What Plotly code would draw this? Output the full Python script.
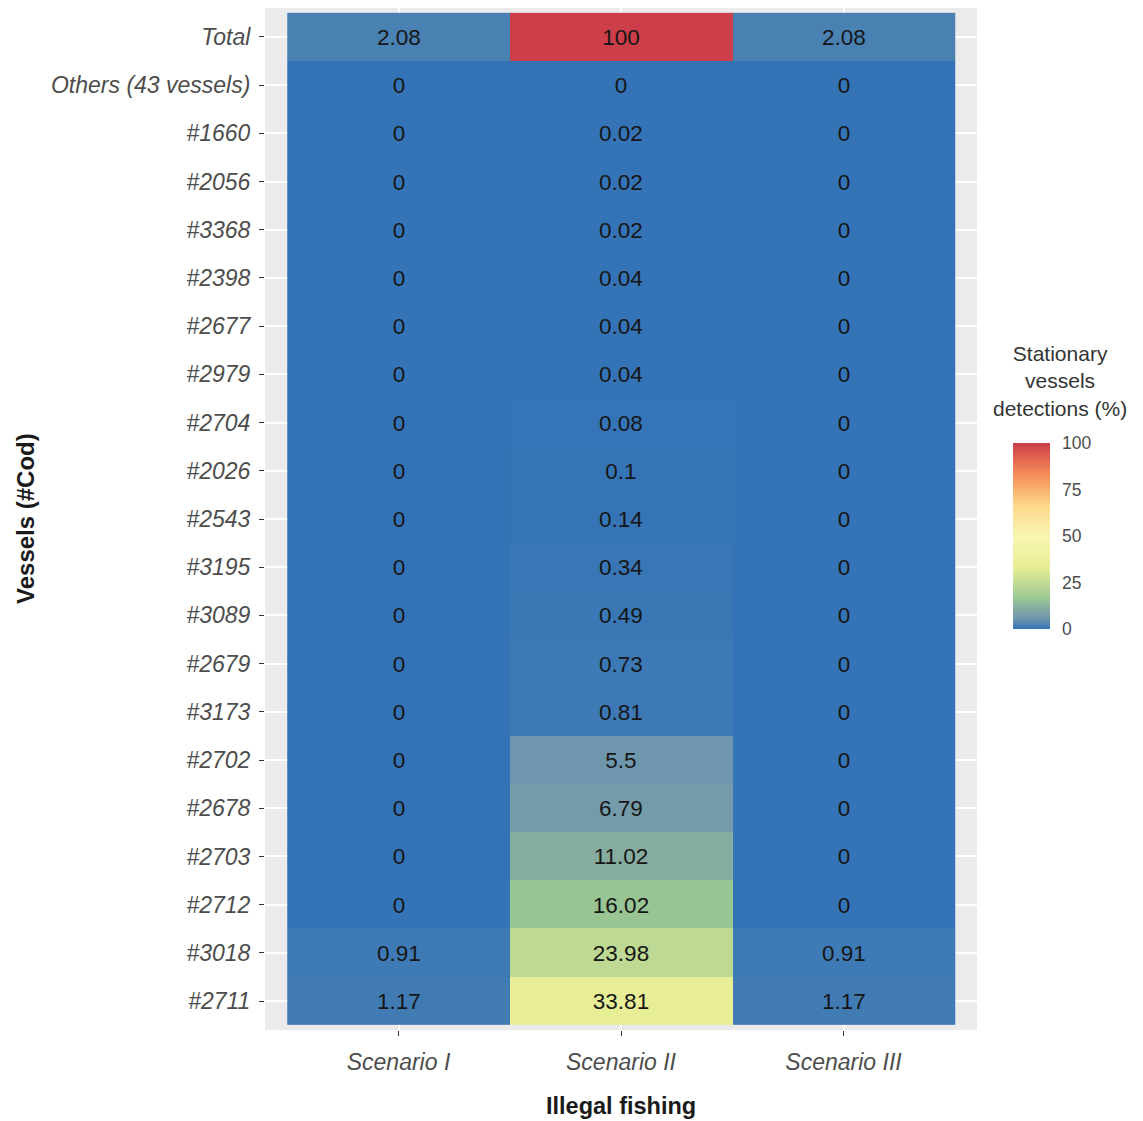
import plotly.graph_objects as go

# Data (rows listed top to bottom)
vessels = ["Total", "Others (43 vessels)", "#1660", "#2056", "#3368", "#2398", "#2677",
           "#2979", "#2704", "#2026", "#2543", "#3195", "#3089", "#2679", "#3173",
           "#2702", "#2678", "#2703", "#2712", "#3018", "#2711"]
scenarios = ["Scenario I", "Scenario II", "Scenario III"]
scenario_1 = [2.08, 0, 0, 0, 0, 0, 0, 0, 0, 0, 0, 0, 0, 0, 0, 0, 0, 0, 0, 0.91, 1.17]
scenario_2 = [100, 0, 0.02, 0.02, 0.02, 0.04, 0.04, 0.04, 0.08, 0.1, 0.14, 0.34, 0.49,
              0.73, 0.81, 5.5, 6.79, 11.02, 16.02, 23.98, 33.81]
scenario_3 = [2.08, 0, 0, 0, 0, 0, 0, 0, 0, 0, 0, 0, 0, 0, 0, 0, 0, 0, 0, 0.91, 1.17]
colorbar_ticks = [0, 25, 50, 75, 100]

z = [[a, b, c] for a, b, c in zip(scenario_1, scenario_2, scenario_3)]
text = [[f"{v:g}" for v in row] for row in z]

colorscale = [
    [0.0, "#3474B6"],
    [0.055, "#6E96AD"],
    [0.11, "#86AC9F"],
    [1 / 6, "#9CC893"],
    [1 / 3, "#E8EE95"],
    [0.5, "#F8F6B4"],
    [2 / 3, "#FCD788"],
    [5 / 6, "#F58B58"],
    [1.0, "#CC3E49"],
]

FONT = "Liberation Sans, Arial, sans-serif"

fig = go.Figure(go.Heatmap(
    x=scenarios, y=vessels, z=z, text=text, texttemplate="%{text}",
    textfont=dict(family=FONT, size=22.5, color="#161616"),
    colorscale=colorscale, zmin=0, zmax=100, xgap=0, ygap=0,
    colorbar=dict(
        thickness=37, len=186, lenmode="pixels",
        x=1.0506, xanchor="left", xpad=0,
        y=0.4834, yanchor="middle", ypad=0,
        tickvals=colorbar_ticks, ticktext=[str(t) for t in colorbar_ticks],
        ticks="outside", ticklen=9, tickcolor="rgba(0,0,0,0)", tickwidth=1,
        outlinewidth=0,
        tickfont=dict(family=FONT, size=17.5, color="#4D4D4D"),
    ),
))

fig.update_layout(
    width=1135, height=1113,
    margin=dict(l=257, r=166, t=0, b=91),
    paper_bgcolor="white", plot_bgcolor="#EBEBEB",
    font=dict(family=FONT),
    xaxis=dict(
        type="category", categoryorder="array", categoryarray=scenarios,
        range=[-0.6, 2.6], showgrid=True, gridcolor="white", gridwidth=1.5,
        zeroline=False, ticks="outside", ticklen=5, tickcolor="#333333",
        ticklabelstandoff=6,
        tickfont=dict(family=FONT, size=23, color="#4D4D4D", style="italic"),
        showline=False,
    ),
    yaxis=dict(
        type="category", categoryorder="array", categoryarray=vessels,
        range=[len(vessels) - 0.4, -0.6], showgrid=True, gridcolor="white", gridwidth=1.5,
        zeroline=False, ticks="outside", ticklen=5, tickcolor="#333333",
        ticklabelstandoff=4,
        tickfont=dict(family=FONT, size=23, color="#4D4D4D", style="italic"),
        showline=False,
    ),
    annotations=[
        dict(text="<b>Illegal fishing</b>", xref="paper", yref="paper", x=0.5, y=0,
             yshift=-76, xanchor="center", yanchor="middle", showarrow=False,
             font=dict(family=FONT, size=23.5, color="#1A1A1A")),
        dict(text="<b>Vessels (#Cod)</b>", xref="paper", yref="paper", x=0, y=0.5,
             xshift=-240, xanchor="center", yanchor="middle", textangle=-90, showarrow=False,
             font=dict(family=FONT, size=24, color="#1A1A1A")),
        dict(text="Stationary<br>vessels<br>detections (%)", xref="paper", yref="paper",
             x=1, xshift=83, y=0.635, xanchor="center", yanchor="middle", align="center",
             showarrow=False, font=dict(family=FONT, size=21, color="#333333")),
    ],
)

fig.write_html("out.html")
